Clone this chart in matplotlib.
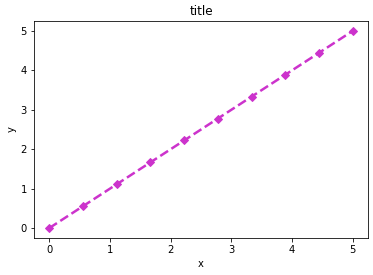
import matplotlib
matplotlib.use("Agg")
import matplotlib.pyplot as plt

x = [0.0, 0.5556, 1.1111, 1.6667, 2.2222, 2.7778, 3.3333, 3.8889, 4.4444, 5.0]
y = [0.0, 0.5556, 1.1111, 1.6667, 2.2222, 2.7778, 3.3333, 3.8889, 4.4444, 5.0]

W, H = 373, 275
fig = plt.figure(figsize=(W / 72, H / 72), dpi=72)
ax = fig.add_axes([34 / W, 1 - 238 / H, (368 - 34) / W, (238 - 21) / H])
ax.plot(x, y, color="#cc33cc", linestyle="--", linewidth=2.5, marker="D", markersize=6)
ax.set_title("title", fontsize=12)
ax.set_xlabel("x", fontsize=10)
ax.set_ylabel("y", fontsize=10)
ax.tick_params(labelsize=10)
fig.savefig("out.png", dpi=72)
